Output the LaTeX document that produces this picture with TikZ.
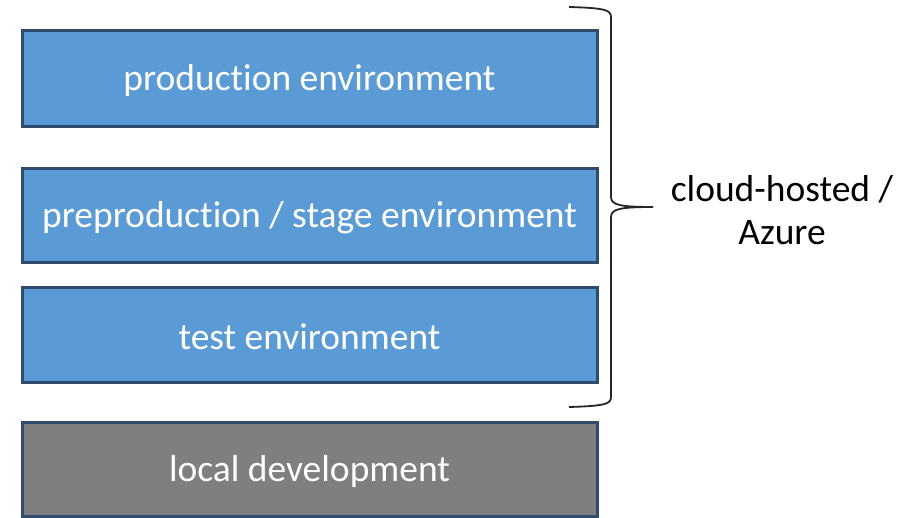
\documentclass[tikz,border=0pt]{standalone}
\usepackage{fontspec}
\setmainfont[Ligatures=NoCommon]{Carlito}
\definecolor{boxblue}{HTML}{5B9BD5}
\definecolor{boxgrey}{HTML}{7F7F7F}
\definecolor{boxedge}{HTML}{2F4B6E}
\definecolor{bracecol}{HTML}{262626}
\begin{document}
\begin{tikzpicture}[x=1pt,y=-1pt,
  envbox/.style={draw=boxedge,line width=3pt,fill=boxblue,text=white,font=\fontsize{37.5}{44}\selectfont},
  localbox/.style={envbox,fill=boxgrey},
  lbl/.style={font=\fontsize{37.5}{43}\selectfont,align=center}]
\useasboundingbox (0,0) rectangle (912,518);
\path[envbox] (22,31) rectangle (597,127) node[midway,yshift=-2pt] (prod) {production environment};
\path[envbox] (22,169) rectangle (597,263) node[midway,yshift=-2pt] (pre) {preproduction / stage environment};
\path[envbox] (22,288) rectangle (597,382) node[midway,yshift=-2pt] (test) {test environment};
\path[localbox] (22,422) rectangle (597,516) node[midway,yshift=-2pt] (local) {local development};
\draw[bracecol,line width=1.8pt] (569,7) .. controls (605,8) and (611,10) .. (611,17) -- (611,197) .. controls (611,205) and (620,207) .. (653,207) .. controls (620,207) and (611,209) .. (611,217) -- (611,397) .. controls (611,404) and (605,406) .. (569,407);
\node[lbl] (cloud) at (782,210) {cloud-hosted /\\Azure};
\end{tikzpicture}
\end{document}
